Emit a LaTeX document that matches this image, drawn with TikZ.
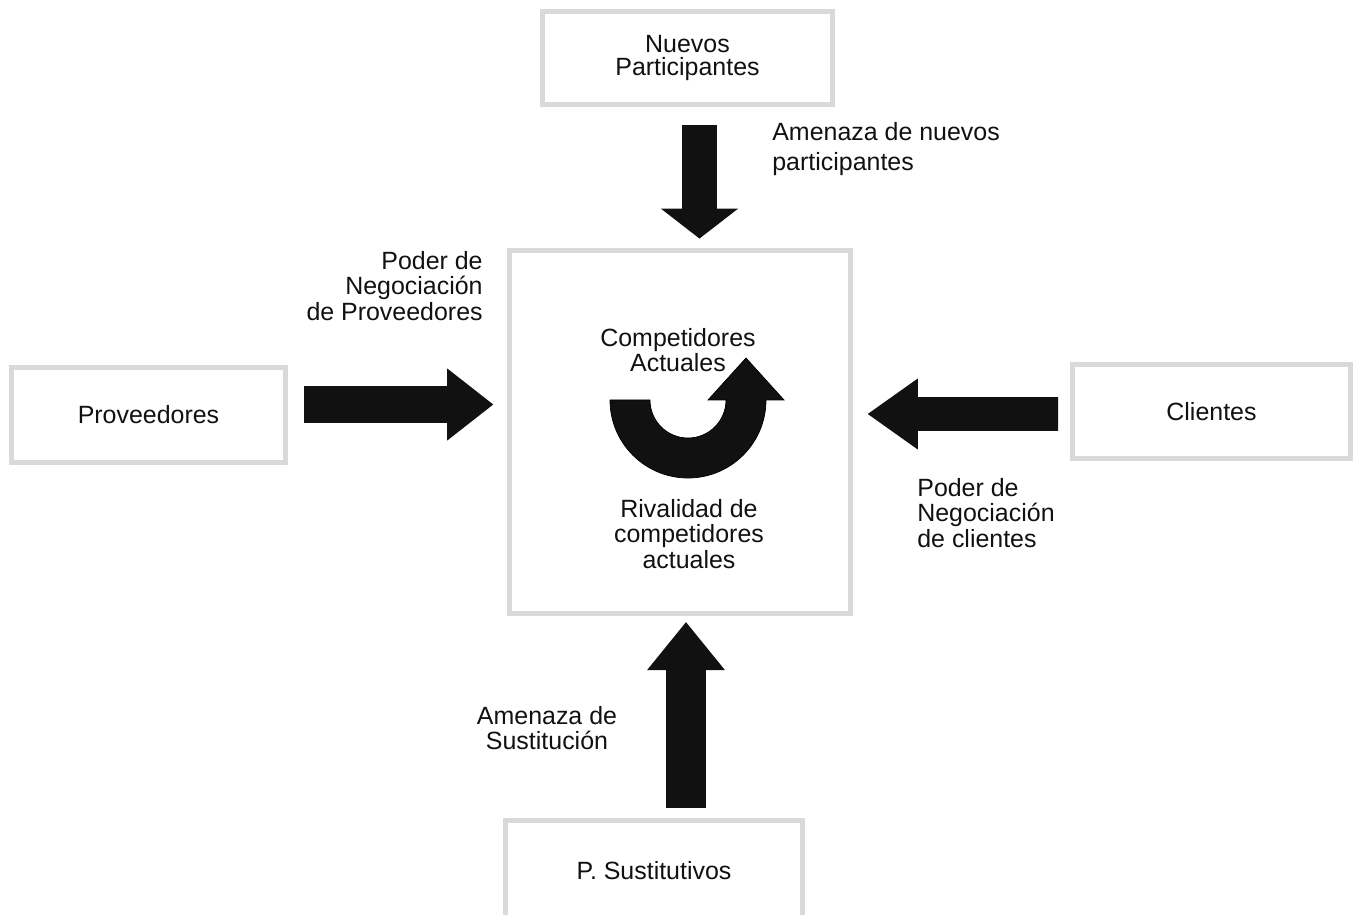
\documentclass[tikz,border=0pt]{standalone}
\usepackage{fontspec}
\setmainfont{Liberation Sans}
\usetikzlibrary{arrows.meta, calc, positioning}
\definecolor{boxgray}{RGB}{217,217,217}
\definecolor{inkblack}{RGB}{17,17,17}

\begin{document}
\begin{tikzpicture}[x=0.02cm, y=-0.02cm,
		porterbox/.style={draw=boxgray, line width=0.1cm, fill=white, align=center, inner sep=0pt, text=inkblack, font=\fontsize{14.2}{13}\selectfont},
		txt/.style={inner sep=0pt, text=inkblack, font=\fontsize{14.2}{14.5}\selectfont},
		force/.style n args={3}{draw=inkblack, line width=#1, shorten >=-0.06cm, -{Triangle[width=#2, length=#3, line width=0pt]}},
		curl/.style={fill=inkblack, draw=black, line width=0.4pt}
		]
		\useasboundingbox (0,0) rectangle (1353,915);
		
		% ----- Boxes -----
		\node[porterbox, minimum width=5.8cm, minimum height=1.86cm] (np) at (687.5,58) {Nuevos\\Participantes};
		\node[porterbox, minimum width=5.48cm, minimum height=1.9cm] (prov) at (148.5,415) {Proveedores};
		\node[porterbox, minimum width=5.56cm, minimum height=1.88cm] (cli) at (1211.5,411.5) {Clientes};
		\node[porterbox, minimum width=5.94cm, minimum height=2.0cm] (ps) at (654,870.5) {P. Sustitutivos};
		\node[porterbox, minimum width=6.82cm, minimum height=7.26cm] (cmp) at (680,432) {};
		
		% ----- Forces -----
		\draw[force={0.71cm}{1.55cm}{0.6cm}] ($(np.south)+(12,18.2)$) -- ($(cmp.north)+(19.5,-12.5)$);
		\draw[force={0.74cm}{1.44cm}{0.92cm}] ($(prov.east)+(16.2,-10.5)$) -- ($(cmp.west)+(-16.8,-27.5)$);
		\draw[force={0.68cm}{1.42cm}{1.0cm}] ($(cli.west)+(-11.8,2.5)$) -- ($(cmp.east)+(17.8,-18)$);
		\draw[force={0.8cm}{1.56cm}{0.96cm}] ($(ps.north)+(32,-10.5)$) -- ($(cmp.south)+(6,9.2)$);
		
		% Labels
		\node[txt, anchor=west, align=left, font=\fontsize{14.2}{17}\selectfont] (lbnew) at (772,149) {Amenaza de nuevos\\participantes};
		\node[txt, anchor=east, align=right] (lbprov) at (483,286) {Poder de\\Negociación\\de Proveedores};
		\node[txt, anchor=west, align=left] (lbcli) at (917,513) {Poder de\\Negociación\\de clientes};
		\node[txt, align=center] (lbsus) at (547,728) {Amenaza de\\Sustitución};
		
		% ----- Rivalry -----
		\fill[curl] (610,400) arc[start angle=180, end angle=0, radius=78] -- (784,400) -- (746,358) -- (708,400) -- (726,400) arc[start angle=0, end angle=180, radius=38] -- cycle;
		\node[txt, align=center, font=\fontsize{14.2}{13}\selectfont] (lbact) at (678,350) {Competidores\\Actuales};
		\node[txt, align=center] (lbriv) at (689,534) {Rivalidad de\\competidores\\actuales};
		
	\end{tikzpicture}
\end{document}
